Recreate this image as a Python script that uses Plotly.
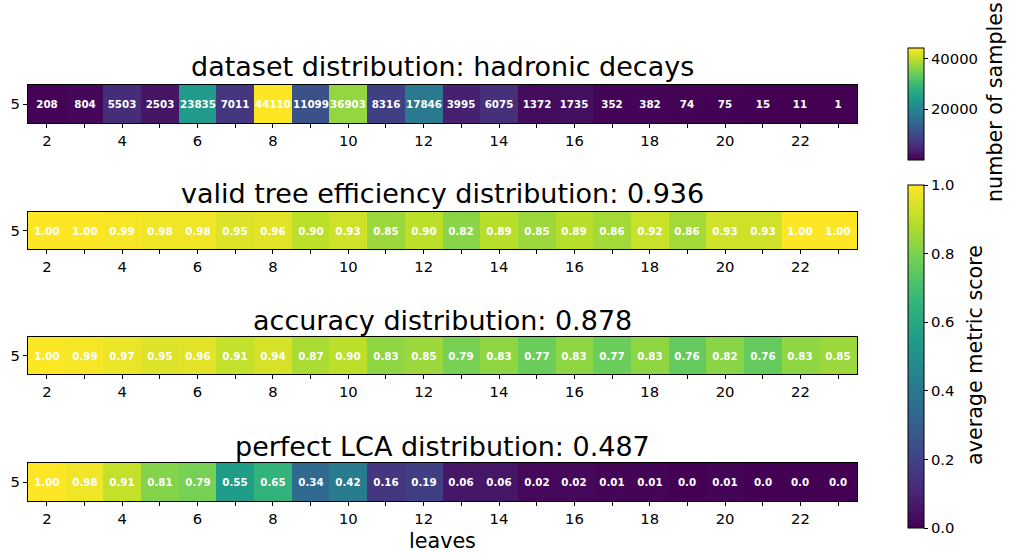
import plotly.graph_objects as go

leaves = list(range(2, 24))
samples = [208, 804, 5503, 2503, 23835, 7011, 44110, 11099, 36903, 8316, 17846,
           3995, 6075, 1372, 1735, 352, 382, 74, 75, 15, 11, 1]
valid_tree = [1.00, 1.00, 0.99, 0.98, 0.98, 0.95, 0.96, 0.90, 0.93, 0.85, 0.90,
              0.82, 0.89, 0.85, 0.89, 0.86, 0.92, 0.86, 0.93, 0.93, 1.00, 1.00]
accuracy = [1.00, 0.99, 0.97, 0.95, 0.96, 0.91, 0.94, 0.87, 0.90, 0.83, 0.85,
            0.79, 0.83, 0.77, 0.83, 0.77, 0.83, 0.76, 0.82, 0.76, 0.83, 0.85]
perfect_lca = [1.00, 0.98, 0.91, 0.81, 0.79, 0.55, 0.65, 0.34, 0.42, 0.16, 0.19,
               0.06, 0.06, 0.02, 0.02, 0.01, 0.01, 0.0, 0.01, 0.0, 0.0, 0.0]
titles = ["dataset distribution: hadronic decays",
          "valid tree efficiency distribution: 0.936",
          "accuracy distribution: 0.878",
          "perfect LCA distribution: 0.487"]
xtick_vals = leaves
xtick_text = [str(v) if v % 2 == 0 else "" for v in leaves]
samples_ticks = [20000, 40000]
score_ticks = [0.0, 0.2, 0.4, 0.6, 0.8, 1.0]

W, H = 1012, 557
FONT = "DejaVu Sans"

def fmt(v):
    return "0.0" if v == 0 else f"{v:.2f}"

rows = [
    (samples, [str(v) for v in samples], "coloraxis"),
    (valid_tree, [fmt(v) for v in valid_tree], "coloraxis2"),
    (accuracy, [fmt(v) for v in accuracy], "coloraxis2"),
    (perfect_lca, [fmt(v) for v in perfect_lca], "coloraxis2"),
]
# pixel extents of the rows (top, bottom)
row_px = [(85, 123), (212, 249), (337, 374), (463, 501)]
title_px = [67, 193, 320, 446]
x0, x1 = 28, 857

fig = go.Figure()
layout = {}
for i, ((vals, txt, cax), (top, bot)) in enumerate(zip(rows, row_px)):
    n = "" if i == 0 else str(i + 1)
    fig.add_trace(go.Heatmap(
        z=[vals], x=leaves, y=[5], text=[txt], texttemplate="%{text}",
        textfont=dict(family=FONT, size=10.3, color="white", weight="bold"),
        coloraxis=cax, xaxis="x" + n, yaxis="y" + n, xgap=0, ygap=0,
        hoverinfo="skip"))
    layout["xaxis" + n] = dict(
        domain=[x0 / W, x1 / W], anchor="y" + n, range=[1.5, 23.5],
        tickmode="array", tickvals=xtick_vals, ticktext=xtick_text,
        ticks="outside", ticklen=4, tickcolor="black", tickwidth=1,
        showline=True, linecolor="black", linewidth=1, mirror=True,
        showgrid=False, zeroline=False,
        tickfont=dict(family=FONT, size=14.8, color="black"))
    layout["yaxis" + n] = dict(
        domain=[1 - bot / H, 1 - top / H], anchor="x" + n, range=[4.5, 5.5],
        tickmode="array", tickvals=[5], ticktext=["5"],
        ticks="outside", ticklen=4, tickcolor="black", tickwidth=1,
        showline=True, linecolor="black", linewidth=1, mirror=True,
        showgrid=False, zeroline=False,
        tickfont=dict(family=FONT, size=14.8, color="black"))

annotations = []
for t, yc in zip(titles, title_px):
    annotations.append(dict(text=t, x=(x0 + x1) / 2 / W, y=1 - yc / H,
                            xref="paper", yref="paper", showarrow=False,
                            xanchor="center", yanchor="middle",
                            font=dict(family=FONT, size=27, color="black")))
annotations.append(dict(text="leaves", x=(x0 + x1) / 2 / W, y=1 - 541 / H,
                        xref="paper", yref="paper", showarrow=False,
                        xanchor="center", yanchor="middle",
                        font=dict(family=FONT, size=20.7, color="black")))
annotations.append(dict(text="number of samples", x=995 / W, y=1 - 102 / H,
                        xref="paper", yref="paper", showarrow=False, textangle=-90,
                        xanchor="center", yanchor="middle",
                        font=dict(family=FONT, size=20.7, color="black")))
annotations.append(dict(text="average metric score", x=975 / W, y=1 - 355 / H,
                        xref="paper", yref="paper", showarrow=False, textangle=-90,
                        xanchor="center", yanchor="middle",
                        font=dict(family=FONT, size=20.7, color="black")))

cb_common = dict(thickness=16, thicknessmode="pixels", lenmode="pixels",
                 xanchor="left", yanchor="top", xpad=0, ypad=0,
                 outlinewidth=1, outlinecolor="black",
                 ticks="outside", ticklen=4, tickcolor="black",
                 tickfont=dict(family=FONT, size=14.8, color="black"))

fig.update_layout(
    width=W, height=H, margin=dict(l=0, r=0, t=0, b=0),
    paper_bgcolor="white", plot_bgcolor="white",
    annotations=annotations,
    coloraxis=dict(colorscale="Viridis", cmin=min(samples), cmax=max(samples),
                   colorbar=dict(x=908 / W, y=1 - 48 / H, len=112,
                                 tickmode="array", tickvals=samples_ticks,
                                 ticktext=[str(v) for v in samples_ticks],
                                 **cb_common)),
    coloraxis2=dict(colorscale="Viridis", cmin=0, cmax=1,
                    colorbar=dict(x=908 / W, y=1 - 185 / H, len=343,
                                  tickmode="array", tickvals=score_ticks,
                                  ticktext=[f"{v:.1f}" for v in score_ticks],
                                  **cb_common)),
    **layout,
)
fig.write_html("out.html")
